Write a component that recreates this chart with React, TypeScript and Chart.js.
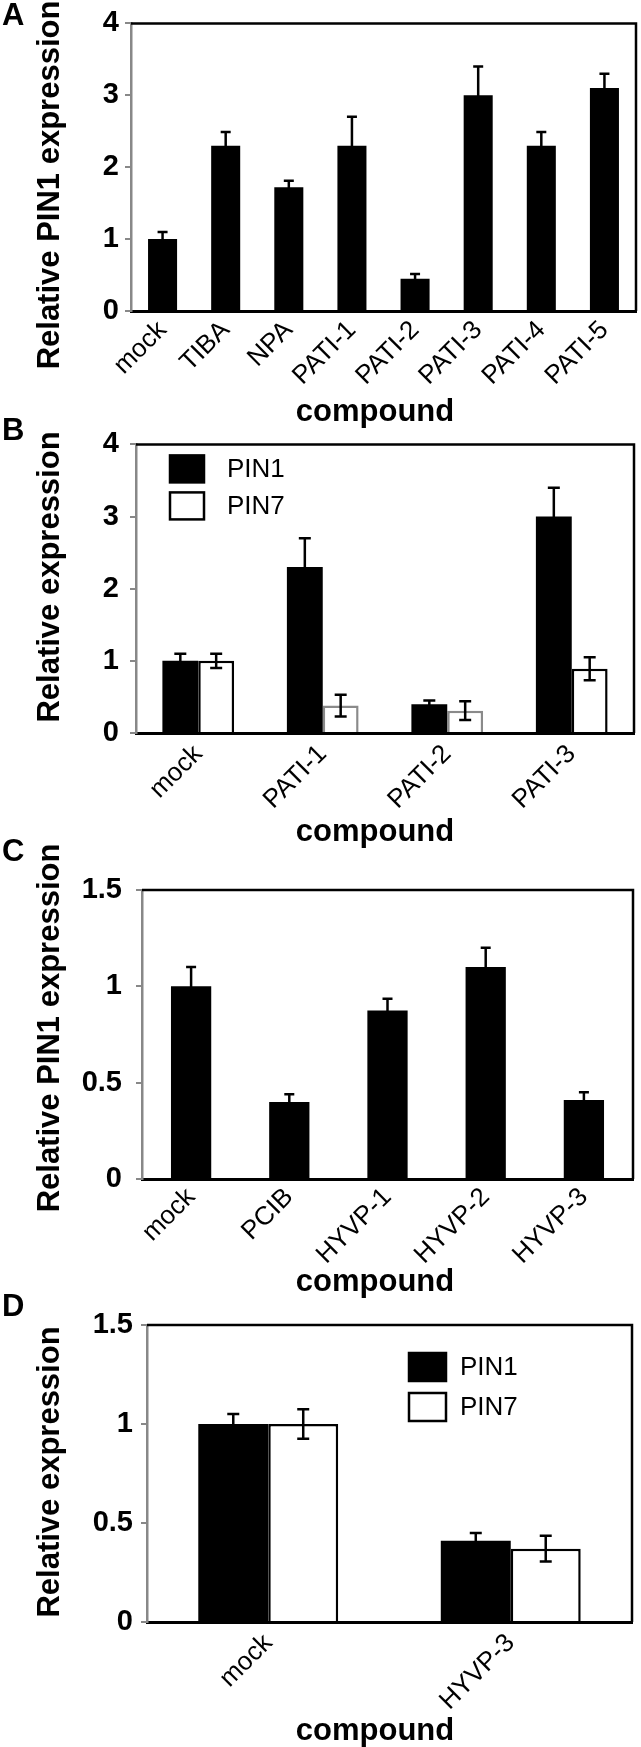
import React, { useEffect, useRef } from 'react';
import { Chart, registerables } from 'chart.js';

Chart.register(...registerables);

const FAMILY = '"Liberation Sans", Arial, Helvetica, sans-serif';

// ---------- Panel A ----------
const aCategories = ['mock', 'TIBA', 'NPA', 'PATI-1', 'PATI-2', 'PATI-3', 'PATI-4', 'PATI-5'];
const aPin1 = [1.0, 2.3, 1.72, 2.3, 0.45, 3.0, 2.3, 3.1];
const aPin1Err = [0.1, 0.19, 0.09, 0.4, 0.065, 0.4, 0.19, 0.2];
const aYTicks = [0, 1, 2, 3, 4];
const aYTickLabels = ['0', '1', '2', '3', '4'];

// ---------- Panel B ----------
const bCategories = ['mock', 'PATI-1', 'PATI-2', 'PATI-3'];
const bPin1 = [1.0, 2.3, 0.4, 3.0];
const bPin1Err = [0.1, 0.4, 0.05, 0.4];
const bPin7 = [1.0, 0.38, 0.31, 0.89];
const bPin7Err = [0.1, 0.15, 0.13, 0.16];
const bYTicks = [0, 1, 2, 3, 4];
const bYTickLabels = ['0', '1', '2', '3', '4'];

// ---------- Panel C ----------
const cCategories = ['mock', 'PCIB', 'HYVP-1', 'HYVP-2', 'HYVP-3'];
const cPin1 = [1.0, 0.4, 0.875, 1.1, 0.41];
const cPin1Err = [0.1, 0.04, 0.06, 0.1, 0.04];
const cYTicks = [0, 0.5, 1, 1.5];
const cYTickLabels = ['0', '0.5', '1', '1.5'];

// ---------- Panel D ----------
const dCategories = ['mock', 'HYVP-3'];
const dPin1 = [1.0, 0.41];
const dPin1Err = [0.05, 0.04];
const dPin7 = [1.0, 0.37];
const dPin7Err = [0.075, 0.065];
const dYTicks = [0, 0.5, 1, 1.5];
const dYTickLabels = ['0', '0.5', '1', '1.5'];

const seriesNames = ['PIN1', 'PIN7'];

const errorBarPlugin = {
  id: 'errorBars',
  afterDatasetsDraw(chart: any, _args: any, opts: any) {
    const ctx = chart.ctx;
    const yScale = chart.scales.y;
    chart.data.datasets.forEach((ds: any, i: number) => {
      if (!ds.errors) return;
      const meta = chart.getDatasetMeta(i);
      ctx.save();
      ctx.strokeStyle = '#000';
      ctx.lineWidth = opts.lineWidth || 2.5;
      const cap = opts.cap || 5;
      meta.data.forEach((bar: any, j: number) => {
        const v = ds.data[j];
        const e = ds.errors[j];
        const yt = yScale.getPixelForValue(v + e);
        const yb = yScale.getPixelForValue(Math.max(0, v - e));
        const x = bar.x;
        ctx.beginPath();
        ctx.moveTo(x, yt);
        ctx.lineTo(x, yb);
        ctx.moveTo(x - cap, yt);
        ctx.lineTo(x + cap, yt);
        ctx.moveTo(x - cap, yb);
        ctx.lineTo(x + cap, yb);
        ctx.stroke();
      });
      ctx.restore();
    });
  },
};

const decorPlugin = {
  id: 'decor',
  afterDraw(chart: any, _args: any, o: any) {
    const { ctx, chartArea: ca } = chart;
    ctx.save();
    // top and right frame
    ctx.strokeStyle = '#000';
    ctx.lineWidth = 2.5;
    ctx.beginPath();
    ctx.moveTo(ca.left, ca.top);
    ctx.lineTo(ca.right, ca.top);
    ctx.lineTo(ca.right, ca.bottom);
    ctx.stroke();

    ctx.fillStyle = '#000';
    ctx.font = `bold 31px ${FAMILY}`;
    ctx.textBaseline = 'alphabetic';
    ctx.textAlign = 'left';
    ctx.fillText(o.letter, o.letterX, o.letterY);

    ctx.save();
    ctx.translate(o.yTitleX, o.yTitleY);
    ctx.rotate(-Math.PI / 2);
    ctx.textAlign = 'center';
    ctx.fillText(o.yTitle, 0, 0);
    ctx.restore();

    ctx.textAlign = 'center';
    ctx.fillText(o.xTitle, o.xTitleX, o.xTitleY);

    if (o.legend) {
      const L = o.legend;
      ctx.font = `26px ${FAMILY}`;
      ctx.textAlign = 'left';
      ctx.textBaseline = 'middle';
      chart.data.datasets.forEach((ds: any, i: number) => {
        const bx = ca.left + L.dx;
        const by = ca.top + L.dy + i * L.pitch;
        ctx.fillStyle = ds.legendFill;
        ctx.fillRect(bx, by, L.w, L.h);
        ctx.strokeStyle = '#000';
        ctx.lineWidth = 2.5;
        ctx.strokeRect(bx, by, L.w, L.h);
        ctx.fillStyle = '#000';
        ctx.fillText(ds.label, bx + L.textDx, by + L.h / 2 + 1);
      });
    }
    ctx.restore();
  },
};

function makeConfig(p: any) {
  return {
    type: 'bar',
    data: { labels: p.labels, datasets: p.datasets },
    options: {
      animation: false,
      responsive: false,
      devicePixelRatio: 1,
      events: [],
      layout: { padding: { top: p.padTop, right: p.padRight, left: 0, bottom: 0 } },
      plugins: {
        legend: { display: false },
        tooltip: { enabled: false },
        title: { display: false },
        errorBars: { cap: p.cap, lineWidth: 2.5 },
        decor: p.decor,
      },
      scales: {
        x: {
          z: 1,
          afterFit: (s: any) => {
            s.height = p.xHeight;
          },
          ticks: {
            color: '#000',
            font: { family: FAMILY, size: 26 },
            minRotation: 45,
            maxRotation: 45,
            autoSkip: false,
            padding: p.xPad,
          },
          grid: { display: false, drawTicks: false },
          border: { color: '#000', width: 3 },
        },
        y: {
          min: 0,
          max: p.yMax,
          afterBuildTicks: (s: any) => {
            s.ticks = p.yTicks.map((v: number) => ({ value: v }));
          },
          afterFit: (s: any) => {
            s.width = p.yWidth;
          },
          ticks: {
            color: '#000',
            font: { family: FAMILY, size: 29, weight: 'bold' },
            padding: p.yPad,
            callback: (_v: any, i: number) => p.yTickLabels[i],
          },
          grid: { drawOnChartArea: false, color: '#888', lineWidth: 2, tickLength: 6 },
          border: { color: '#888', width: 2.5 },
        },
      },
    },
    plugins: [errorBarPlugin, decorPlugin],
  };
}

function Panel({ top, height, config }: { top: number; height: number; config: any }) {
  const ref = useRef<HTMLCanvasElement>(null);
  useEffect(() => {
    const chart = new Chart(ref.current as HTMLCanvasElement, config);
    return () => chart.destroy();
  }, []);
  return (
    <canvas
      ref={ref}
      width={641}
      height={height}
      style={{ position: 'absolute', left: 0, top, width: 641, height }}
    />
  );
}

const panelA = makeConfig({
  labels: aCategories,
  datasets: [
    {
      label: seriesNames[0],
      data: aPin1,
      errors: aPin1Err,
      backgroundColor: '#000',
      borderWidth: 0,
      barPercentage: 1,
      categoryPercentage: 0.46,
    },
  ],
  padTop: 14,
  padRight: 5,
  xHeight: 121,
  yWidth: 131,
  yMax: 4,
  yTicks: aYTicks,
  yTickLabels: aYTickLabels,
  yPad: 6,
  xPad: 4,
  cap: 5,
  decor: {
    letter: 'A', letterX: 2, letterY: 25,
    yTitle: 'Relative PIN1 expression', yTitleX: 59, yTitleY: 185,
    xTitle: 'compound', xTitleX: 375, xTitleY: 421,
  },
});

const panelB = makeConfig({
  labels: bCategories,
  datasets: [
    {
      label: seriesNames[0],
      data: bPin1,
      errors: bPin1Err,
      backgroundColor: '#000',
      borderColor: '#000',
      borderWidth: 0,
      legendFill: '#000',
      barPercentage: 1,
      categoryPercentage: 0.576,
    },
    {
      label: seriesNames[1],
      data: bPin7,
      errors: bPin7Err,
      backgroundColor: '#fff',
      borderColor: ['#000', '#8a8a8a', '#8a8a8a', '#000'],
      borderWidth: 2.5,
      legendFill: '#fff',
      barPercentage: 1,
      categoryPercentage: 0.576,
    },
  ],
  padTop: 25,
  padRight: 7,
  xHeight: 123,
  yWidth: 136,
  yMax: 4,
  yTicks: bYTicks,
  yTickLabels: bYTickLabels,
  yPad: 11,
  xPad: 6,
  cap: 6,
  decor: {
    letter: 'B', letterX: 2, letterY: 24,
    yTitle: 'Relative expression', yTitleX: 59, yTitleY: 161,
    xTitle: 'compound', xTitleX: 375, xTitleY: 425,
    legend: { dx: 34, dy: 11, w: 34, h: 27, pitch: 37, textDx: 57 },
  },
});

const panelC = makeConfig({
  labels: cCategories,
  datasets: [
    {
      label: seriesNames[0],
      data: cPin1,
      errors: cPin1Err,
      backgroundColor: '#000',
      borderWidth: 0,
      barPercentage: 1,
      categoryPercentage: 0.41,
    },
  ],
  padTop: 52,
  padRight: 8,
  xHeight: 121,
  yWidth: 142,
  yMax: 1.5,
  yTicks: cYTicks,
  yTickLabels: cYTickLabels,
  yPad: 14,
  xPad: 3,
  cap: 5,
  decor: {
    letter: 'C', letterX: 2, letterY: 23,
    yTitle: 'Relative PIN1 expression', yTitleX: 59, yTitleY: 190,
    xTitle: 'compound', xTitleX: 375, xTitleY: 453,
  },
});

const panelD = makeConfig({
  labels: dCategories,
  datasets: [
    {
      label: seriesNames[0],
      data: dPin1,
      errors: dPin1Err,
      backgroundColor: '#000',
      borderWidth: 0,
      legendFill: '#000',
      barPercentage: 1,
      categoryPercentage: 0.577,
    },
    {
      label: seriesNames[1],
      data: dPin7,
      errors: dPin7Err,
      backgroundColor: '#fff',
      borderColor: '#000',
      borderWidth: 2.5,
      legendFill: '#fff',
      barPercentage: 1,
      categoryPercentage: 0.577,
    },
  ],
  padTop: 33,
  padRight: 9,
  xHeight: 125,
  yWidth: 147,
  yMax: 1.5,
  yTicks: dYTicks,
  yTickLabels: dYTickLabels,
  yPad: 8,
  xPad: 6,
  cap: 6,
  decor: {
    letter: 'D', letterX: 2, letterY: 24,
    yTitle: 'Relative expression', yTitleX: 59, yTitleY: 180,
    xTitle: 'compound', xTitleX: 375, xTitleY: 448,
    legend: { dx: 262, dy: 28, w: 37, h: 28, pitch: 40, textDx: 51 },
  },
});

export default function App() {
  return (
    <div style={{ position: 'absolute', left: 0, top: 0, width: 641, height: 1747, background: '#fff' }}>
      <Panel top={0} height={432} config={panelA} />
      <Panel top={416} height={440} config={panelB} />
      <Panel top={838} height={462} config={panelC} />
      <Panel top={1292} height={455} config={panelD} />
    </div>
  );
}
